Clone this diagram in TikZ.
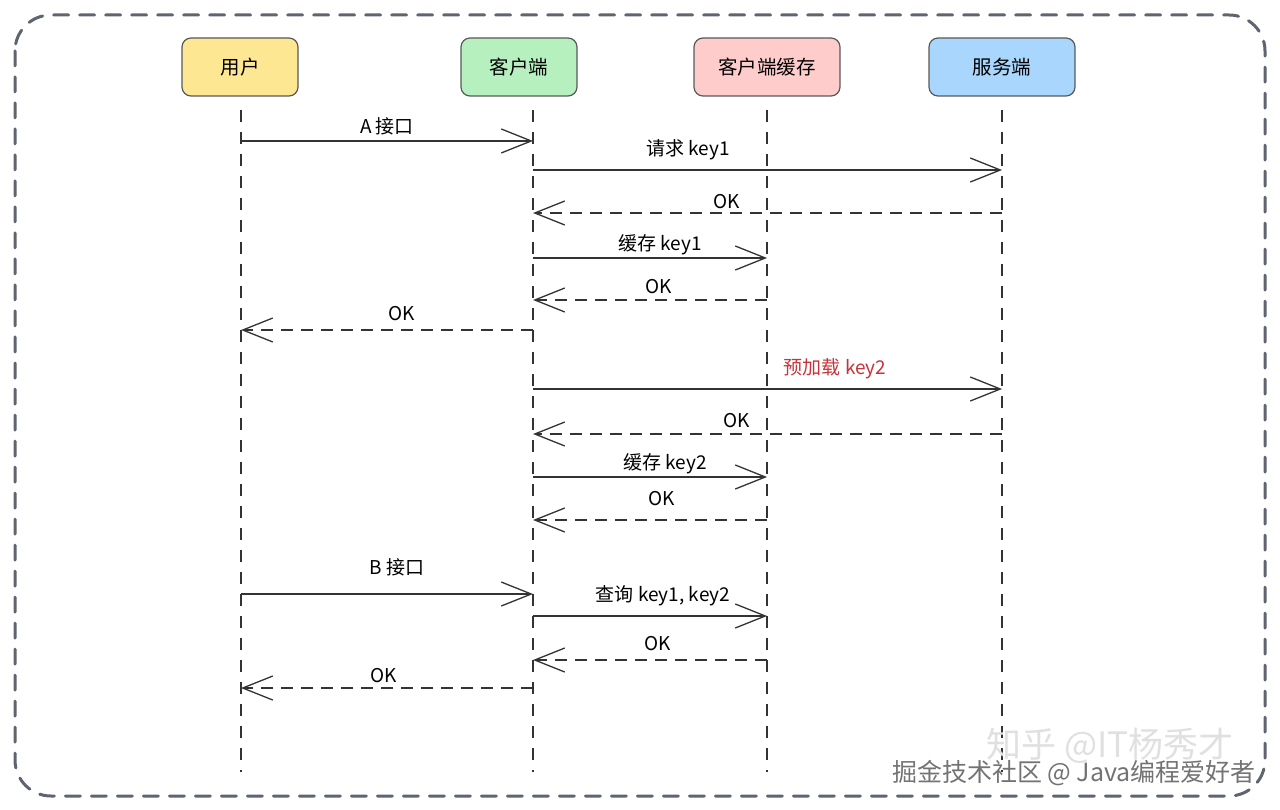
\documentclass[tikz,border=0pt]{standalone}
\usepackage{fontspec}
\setmainfont{Noto Sans CJK SC}
\usetikzlibrary{arrows.meta}
\definecolor{frame}{HTML}{5E6570}
\definecolor{cyellow}{HTML}{FDE792}
\definecolor{cgreen}{HTML}{B6F0BE}
\definecolor{cpink}{HTML}{FFCCCC}
\definecolor{cblue}{HTML}{A8D6FC}
\definecolor{cred}{HTML}{C8323A}
\definecolor{linec}{HTML}{333333}
\begin{document}
\begin{tikzpicture}[x=1pt,y=-1pt,
  actor/.style={draw=black!65,line width=1.2pt,rounded corners=9pt,minimum width=116pt,minimum height=58pt,font=\fontsize{19.5}{21}\selectfont,inner sep=0pt},
  life/.style={draw=linec,line width=1.4pt,dash pattern=on 12pt off 10pt},
  vtip/.style={-{Straight Barb[length=30pt,width=24pt,line width=1.3pt]}},
  call/.style={draw=linec,line width=1.2pt,vtip},
  ret/.style={draw=linec,line width=1.8pt,dash pattern=on 12pt off 8pt,vtip},
  lbl/.style={font=\fontsize{19}{21}\selectfont,inner sep=1pt},
  wm/.style={font=\fontsize{25}{27}\selectfont,inner sep=0pt}]
\useasboundingbox (0,0) rectangle (1280,810);
\draw[frame,line width=3pt,rounded corners=36pt,dash pattern=on 15pt off 11pt,line cap=round] (15,15) rectangle (1265,796);

\node[actor,fill=cyellow] (bu) at (240,67) {用户};
\node[actor,fill=cgreen] (bc) at (519,67) {客户端};
\node[actor,fill=cpink,minimum width=146pt] (bk) at (767,67) {客户端缓存};
\node[actor,fill=cblue,minimum width=146pt] (bs) at (1002,67) {服务端};

\coordinate (u) at (241,110);
\coordinate (c) at (533,110);
\coordinate (k) at (767,110);
\coordinate (s) at (1002,110);
\coordinate (end) at (0,772);
\draw[life] (u) -- (u|-end);
\draw[life] (c) -- (c|-end);
\draw[life] (k) -- (k|-end);
\draw[life] (s) -- (s|-end);

\foreach \n/\y in {m1/141,m2/170,m3/213,m4/258,m5/300,m6/330,m7/389,m8/434,m9/477,m10/520,m11/594,m12/616,m13/660,m14/688}
  \coordinate (\n) at (0,\y);

\draw[call] (u|-m1) -- (c|-m1);
\node[lbl] (l1) at (387,126) {A 接口};
\draw[call] (c|-m2) -- (s|-m2);
\node[lbl] (l2) at (688,150) {请求 key1};
\draw[ret] (s|-m3) -- (c|-m3);
\node[lbl] (l3) at (727,202) {OK};
\draw[call] (c|-m4) -- (k|-m4);
\node[lbl] (l4) at (660,245) {缓存 key1};
\draw[ret] (k|-m5) -- (c|-m5);
\node[lbl] (l5) at (659,287) {OK};
\draw[ret] (c|-m6) -- (u|-m6);
\node[lbl] (l6) at (402,314) {OK};
\draw[call] (c|-m7) -- (s|-m7);
\node[lbl,text=cred] (l7) at (835,369) {预加载 key2};
\draw[ret] (s|-m8) -- (c|-m8);
\node[lbl] (l8) at (737,421) {OK};
\draw[call] (c|-m9) -- (k|-m9);
\node[lbl] (l9) at (665,464) {缓存 key2};
\draw[ret] (k|-m10) -- (c|-m10);
\node[lbl] (l10) at (662,499) {OK};
\draw[call] (u|-m11) -- (c|-m11);
\node[lbl] (l11) at (397,567) {B 接口};
\draw[call] (c|-m12) -- (k|-m12);
\node[lbl] (l12) at (663,596) {查询 key1, key2};
\draw[ret] (k|-m13) -- (c|-m13);
\node[lbl] (l13) at (658,644) {OK};
\draw[ret] (c|-m14) -- (u|-m14);
\node[lbl] (l14) at (384,676) {OK};

\node[wm,text=black!12,font=\fontsize{35}{37}\selectfont] (w1) at (1110,746) {知乎 @IT杨秀才};
\node[wm,text=black!55] (w2) at (1074,773) {掘金技术社区 @ Java编程爱好者};
\end{tikzpicture}
\end{document}
